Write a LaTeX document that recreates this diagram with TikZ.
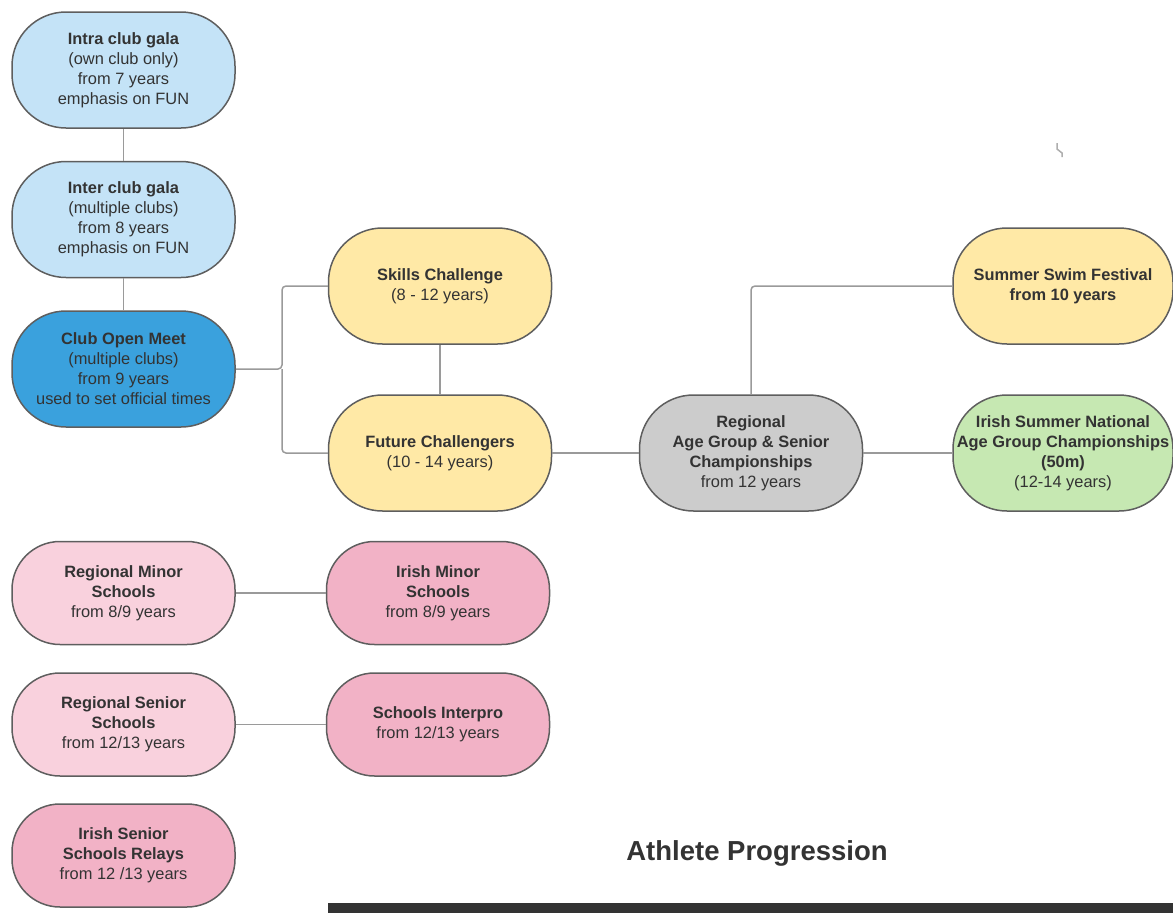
\documentclass[tikz,border=0pt]{standalone}
\usepackage{fontspec}
\setmainfont{Liberation Sans}
\usepackage{tikz}
\usetikzlibrary{positioning,calc}

\definecolor{GalaBlue}{HTML}{C4E3F7}
\definecolor{OpenBlue}{HTML}{3AA1DD}
\definecolor{SkillYellow}{HTML}{FFE9A6}
\definecolor{RegGrey}{HTML}{CCCCCC}
\definecolor{NatGreen}{HTML}{C6E8B2}
\definecolor{SchoolPink}{HTML}{F9D1DD}
\definecolor{IrishPink}{HTML}{F2B2C6}
\definecolor{BoxLine}{HTML}{5E5E5E}
\definecolor{EdgeGrey}{HTML}{9A9A9A}
\definecolor{TextGrey}{HTML}{333333}

\begin{document}
\begin{tikzpicture}[x=1pt,y=-1pt]
				\useasboundingbox (0,0) rectangle (1173,913);
				\tikzset{BoxStyle/.style = {draw=BoxLine, line width=1.5pt, rounded corners=54pt, minimum width=223pt, minimum height=116pt, align=center, inner sep=0pt, text=TextGrey, font=\fontsize{16.4}{20}\selectfont}}
				\tikzset{SchoolBox/.style = {BoxStyle, minimum height=103pt, rounded corners=48pt}}
				\tikzstyle{EdgeStyle}=[draw=EdgeGrey, line width=1.5pt, rounded corners=4pt]
				\node[BoxStyle, fill=GalaBlue] (intra) at (123.5,70) {\textbf{Intra club gala}\\(own club only)\\from 7 years\\emphasis on FUN};
				\node[BoxStyle, fill=GalaBlue] (inter) at (123.5,219.5) {\textbf{Inter club gala}\\(multiple clubs)\\from 8 years\\emphasis on FUN};
				\node[BoxStyle, fill=OpenBlue] (open) at (123.5,369) {\textbf{Club Open Meet}\\(multiple clubs)\\from 9 years\\used to set official times};
				\node[BoxStyle, fill=SkillYellow] (skills) at (440,286) {\textbf{Skills Challenge}\\(8 - 12 years)};
				\node[BoxStyle, fill=SkillYellow] (future) at (440,453) {\textbf{Future Challengers}\\(10 - 14 years)};
				\node[BoxStyle, fill=RegGrey] (regional) at (751,453) {\textbf{Regional}\\\textbf{Age Group \& Senior}\\\textbf{Championships}\\from 12 years};
				\node[BoxStyle, fill=SkillYellow, minimum width=220pt] (swim) at (1063,286) {\textbf{Summer Swim Festival}\\\textbf{from 10 years}};
				\node[BoxStyle, fill=NatGreen, minimum width=220pt] (national) at (1063,453) {\textbf{Irish Summer National}\\\textbf{Age Group Championships}\\\textbf{(50m)}\\(12-14 years)};
				\node[SchoolBox, fill=SchoolPink] (minor) at (123.5,593) {\textbf{Regional Minor}\\\textbf{Schools}\\from 8/9 years};
				\node[SchoolBox, fill=IrishPink] (irishminor) at (438,593) {\textbf{Irish Minor}\\\textbf{Schools}\\from 8/9 years};
				\node[SchoolBox, fill=SchoolPink] (senior) at (123.5,724.5) {\textbf{Regional Senior}\\\textbf{Schools}\\from 12/13 years};
				\node[SchoolBox, fill=IrishPink] (interpro) at (438,724.5) {\textbf{Schools Interpro}\\from 12/13 years};
				\node[SchoolBox, fill=IrishPink] (relays) at (123.5,855.5) {\textbf{Irish Senior}\\\textbf{Schools Relays}\\from 12 /13 years};
				\node[text=TextGrey, font=\fontsize{27.5}{32}\selectfont\bfseries] (title) at (757,853) {Athlete Progression};
				\coordinate (fork) at (282,369);
				\draw[EdgeStyle] (intra) -- (inter);
				\draw[EdgeStyle] (inter) -- (open);
				\draw[EdgeStyle] (open.east) -- (fork) |- (skills.west);
				\draw[EdgeStyle] (fork) |- (future.west);
				\draw[EdgeStyle] (skills) -- (future);
				\draw[EdgeStyle] (future) -- (regional);
				\draw[EdgeStyle] (regional.north) |- (swim.west);
				\draw[EdgeStyle] (regional) -- (national);
				\draw[EdgeStyle] (minor) -- (irishminor);
				\draw[EdgeStyle] (senior) -- (interpro);
				\draw[EdgeGrey!80, line width=1.5pt] (1057,143) -- (1057,149) -- (1062,153) -- (1062,157);
				\fill[TextGrey] (328,903) rectangle (1173,913);
			\end{tikzpicture}
\end{document}
